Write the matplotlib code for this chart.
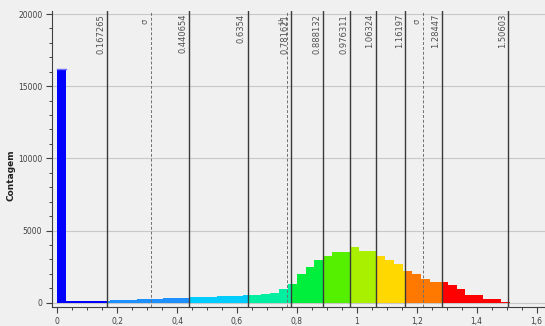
import numpy as np
import matplotlib
matplotlib.use("Agg")
from matplotlib import pyplot as plt
from matplotlib import transforms
from matplotlib.ticker import MultipleLocator, FuncFormatter

# histogram counts: first bar (zeros) then 50 regular bins
counts = [16200,
          85, 90, 95, 100, 110, 170, 190, 210, 230, 250,
          270, 290, 320, 350, 400, 410, 420, 440, 450, 470,
          530, 560, 590, 680, 960, 1280, 1980, 2500, 2950, 3250,
          3500, 3500, 3850, 3550, 3550, 3250, 2950, 2650, 2200, 2000,
          1650, 1430, 1400, 1230, 930, 510, 510, 230, 230, 70]
first_edge = 0.028
last_edge = 1.5105

# class breaks (solid lines) and their colours
breaks = [0.167265, 0.440654, 0.6354, 0.781621, 0.888132,
          0.976311, 1.06324, 1.16197, 1.28447, 1.50603]
break_labels = ["0.167265", "0.440654", "0.6354", "0.781621", "0.888132",
                "0.976311", "1.06324", "1.16197", "1.28447", "1.50603"]
class_colors = ['#0000ff', '#1e90ff', '#00ccff', '#00eea0', '#00ee3c',
                '#55f000', '#a8f000', '#ffd800', '#ff7800', '#ff0000', '#ff0000']

# mean and +-sigma (dashed lines)
stat_vals = [0.3136, 0.767, 1.2205]
stat_labels = ["\u03c3", "\u03bc", "\u03c3"]

edges = np.concatenate([[0.0], np.linspace(first_edge, last_edge, len(counts))])

fig = plt.figure(figsize=(5.45, 3.26), dpi=100)
fig.set_facecolor('#f0f0f0')
ax = fig.add_axes([52 / 545, 1 - 307.3 / 326, 493 / 545, 296.3 / 326])
ax.set_facecolor('#f0f0f0')

# bars, split where a class break falls inside a bin
for lo, hi, h in zip(edges[:-1], edges[1:], counts):
    if h <= 0:
        continue
    cuts = [lo] + [b for b in breaks if lo < b < hi] + [hi]
    for a, b in zip(cuts[:-1], cuts[1:]):
        ci = int(np.searchsorted(breaks, (a + b) / 2))
        ax.bar(a, h, width=b - a, align='edge', color=class_colors[ci],
               linewidth=0, zorder=2)
# light top edge on the big first bar
ax.plot([edges[0], edges[1]], [counts[0], counts[0]], color='#7070ff', lw=1, zorder=3)

ax.set_xlim(-0.0177, 1.628)
ax.set_ylim(-320, 20208)

ax.yaxis.grid(True, color='#c8c8c8', lw=0.8, zorder=0)
ax.set_axisbelow(True)

lab_trans = transforms.offset_copy(
    transforms.blended_transform_factory(ax.transData, ax.transAxes),
    fig=fig, x=-1.2, y=0, units='points')

for v, lab in zip(breaks, break_labels):
    ax.axvline(v, color='#3a3a3a', lw=1.0, zorder=4)
    ax.text(v, 0.99, lab, rotation=90, ha='right', va='top', fontsize=6,
            color='#505050', transform=lab_trans, zorder=5)

for v, lab in zip(stat_vals, stat_labels):
    ax.axvline(v, color='#707070', lw=0.7, ls=(0, (3, 2)), zorder=4)
    ax.text(v, 0.975, lab, rotation=90, ha='right', va='top', fontsize=6,
            color='#606060', transform=lab_trans, zorder=5)

# axes styling
for s in ['top', 'right']:
    ax.spines[s].set_visible(False)
for s in ['left', 'bottom']:
    ax.spines[s].set_color('#404040')
    ax.spines[s].set_linewidth(0.8)

ax.xaxis.set_major_locator(MultipleLocator(0.2))
ax.xaxis.set_minor_locator(MultipleLocator(0.05))
ax.yaxis.set_major_locator(MultipleLocator(5000))
ax.yaxis.set_minor_locator(MultipleLocator(1000))
ax.xaxis.set_major_formatter(FuncFormatter(lambda v, p: ('%g' % round(v, 2)).replace('.', ',')))
ax.yaxis.set_major_formatter(FuncFormatter(lambda v, p: '%d' % v))
ax.tick_params(which='major', length=4, width=0.8, color='#404040',
               labelsize=5.5, labelcolor='#404040', pad=3)
ax.tick_params(which='minor', length=2.5, width=0.7, color='#404040')

ax.set_ylabel('Contagem', fontsize=6.5, fontweight='bold', color='#202020')
ax.yaxis.set_label_coords(-0.075, 0.446)

fig.savefig('out.png', dpi=100, facecolor=fig.get_facecolor())
